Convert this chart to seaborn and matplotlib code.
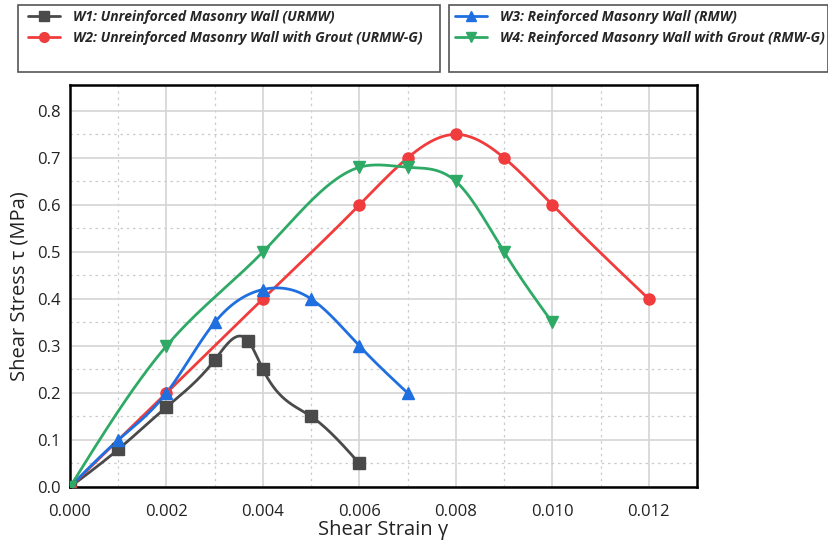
import numpy as np
import matplotlib
matplotlib.use("Agg")
import matplotlib.pyplot as plt
import seaborn as sns
from matplotlib.lines import Line2D
from matplotlib.patches import Rectangle

# data
w1_x = [0.0, 0.001, 0.002, 0.003, 0.0037, 0.004, 0.005, 0.006]
w1_y = [0.0, 0.08, 0.17, 0.27, 0.31, 0.25, 0.15, 0.05]
w2_x = [0.0, 0.002, 0.004, 0.006, 0.007, 0.008, 0.009, 0.010, 0.012]
w2_y = [0.0, 0.20, 0.40, 0.60, 0.70, 0.75, 0.70, 0.60, 0.40]
w3_x = [0.0, 0.001, 0.002, 0.003, 0.004, 0.005, 0.006, 0.007]
w3_y = [0.0, 0.10, 0.20, 0.35, 0.42, 0.40, 0.30, 0.20]
w4_x = [0.0, 0.002, 0.004, 0.006, 0.007, 0.008, 0.009, 0.010]
w4_y = [0.0, 0.30, 0.50, 0.68, 0.68, 0.65, 0.50, 0.35]

labels = [
    "W1: Unreinforced Masonry Wall (URMW)",
    "W2: Unreinforced Masonry Wall with Grout (URMW-G)",
    "W3: Reinforced Masonry Wall (RMW)",
    "W4: Reinforced Masonry Wall with Grout (RMW-G)",
]
colors = ["#4a4a4a", "#f03c3c", "#1f6fe0", "#2faa66"]
markers = ["s", "o", "^", "v"]


def natural_spline(x, y, n=300):
    # natural cubic spline, just for drawing the smooth line through the points
    x = np.asarray(x, float)
    y = np.asarray(y, float)
    k = len(x)
    h = np.diff(x)
    A = np.zeros((k, k))
    b = np.zeros(k)
    A[0, 0] = A[-1, -1] = 1
    for i in range(1, k - 1):
        A[i, i - 1] = h[i - 1]
        A[i, i] = 2 * (h[i - 1] + h[i])
        A[i, i + 1] = h[i]
        b[i] = 6 * ((y[i + 1] - y[i]) / h[i] - (y[i] - y[i - 1]) / h[i - 1])
    M = np.linalg.solve(A, b)
    xs = np.linspace(x[0], x[-1], n)
    idx = np.clip(np.searchsorted(x, xs) - 1, 0, k - 2)
    x0, x1 = x[idx], x[idx + 1]
    hh = x1 - x0
    t0, t1 = x1 - xs, xs - x0
    ys = (M[idx] * t0**3 + M[idx + 1] * t1**3) / (6 * hh) \
        + (y[idx] / hh - M[idx] * hh / 6) * t0 \
        + (y[idx + 1] / hh - M[idx + 1] * hh / 6) * t1
    return xs, ys


sns.set_style("white")
plt.rcParams["font.family"] = ["Open Sans", "DejaVu Sans"]

fig = plt.figure(figsize=(8.29, 5.42), dpi=100)
ax = fig.add_axes([70 / 829, 55 / 542, 627 / 829, 402 / 542])

series = [(w1_x, w1_y), (w2_x, w2_y), (w3_x, w3_y), (w4_x, w4_y)]
for (xv, yv), c, m in zip(series, colors, markers):
    xs, ys = natural_spline(xv, yv)
    sns.lineplot(x=xs, y=ys, ax=ax, color=c, lw=2, sort=False, zorder=3)
    ax.plot(xv, yv, ls="none", marker=m, color=c, markersize=8, zorder=4)

ax.set_xlim(0, 0.013)
ax.set_ylim(0, 0.855)
ax.set_xticks(np.arange(0, 0.0121, 0.002))
ax.set_yticks(np.arange(0, 0.81, 0.1))
ax.set_xticks(np.arange(0.001, 0.013, 0.002), minor=True)
ax.set_yticks(np.arange(0.05, 0.85, 0.1), minor=True)
ax.xaxis.set_major_formatter(plt.FuncFormatter(lambda v, p: f"{v:.3f}"))
ax.yaxis.set_major_formatter(plt.FuncFormatter(lambda v, p: f"{v:.1f}"))
ax.grid(which="major", color="#d4d4d4", lw=1.2)
ax.grid(which="minor", color="#cccccc", lw=0.9, ls=(0, (2, 3)))
ax.tick_params(which="both", length=0, labelsize=12, colors="#222222")
ax.tick_params(axis="x", pad=12)
ax.tick_params(axis="y", pad=7)
for s in ax.spines.values():
    s.set_color("black")
    s.set_linewidth(1.8)

ax.set_xlabel("Shear Strain γ", fontsize=14.5, color="#222222", labelpad=0)
ax.set_ylabel("Shear Stress τ (MPa)", fontsize=14.5, color="#222222", labelpad=5)

# two legend boxes across the top
for (x0, x1) in [(18, 441), (449, 829)]:
    fig.patches.append(Rectangle((x0 / 829, 1 - 72 / 542), (x1 - x0 - 1) / 829, 67 / 542,
                                 transform=fig.transFigure, fill=False,
                                 edgecolor="#555555", lw=1.2))

handles = [Line2D([], [], color=c, marker=m, lw=2, markersize=7) for c, m in zip(colors, markers)]
for hs, ls, xpos in [(handles[:2], labels[:2], 20), (handles[2:], labels[2:], 447)]:
    fig.legend(hs, ls, loc="upper left", bbox_to_anchor=(xpos / 829, 1 - 2 / 542),
               frameon=False, handlelength=2.3, handletextpad=0.9, labelspacing=0.45,
               borderpad=0.3, borderaxespad=0.3,
               prop={"weight": "bold", "style": "italic", "size": 10})

fig.savefig("out.png", dpi=100)
